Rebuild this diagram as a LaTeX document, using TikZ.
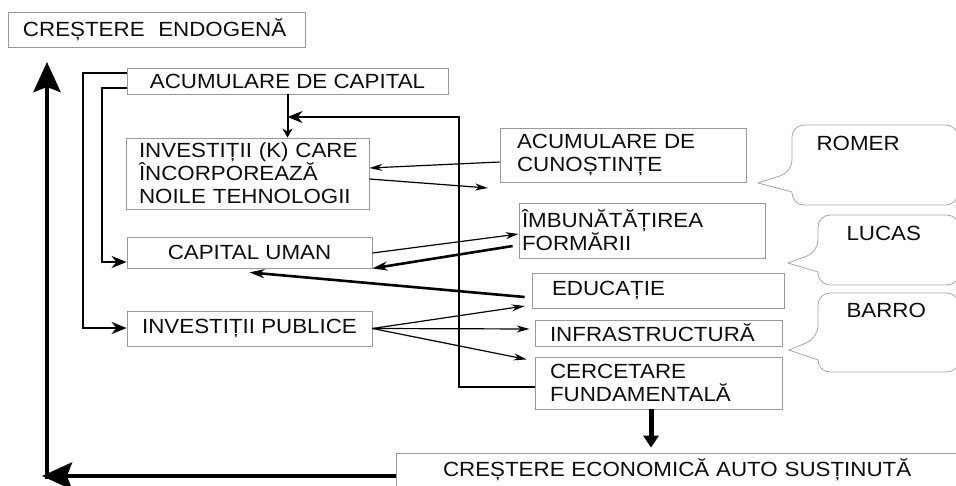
\documentclass[tikz,border=0pt]{standalone}
\usepackage{fontspec}
\setmainfont{Liberation Sans}[FakeStretch=1.09]
\usetikzlibrary{arrows.meta,calc,positioning}

\begin{document}
\begin{tikzpicture}[
    x=1pt, y=-1pt,
    font=\fontsize{20.5}{23}\selectfont,
    text=black!95,
    box/.style={draw=black!40, line width=0.8pt, inner ysep=0pt},
    lbox/.style={box, align=left},
    bubble/.style={draw=black!35, line width=0.8pt},
    thin/.style={line width=1.2pt, -{Stealth[length=13pt,width=7pt]}},
    thk/.style={line width=2.6pt, -{Stealth[length=15pt,width=9pt]}},
    lnk/.style={line width=2.2pt, -{Stealth[length=15pt,width=12pt]}},
    big/.style={line width=4.5pt, -{Stealth[length=30pt,width=27pt,inset=5pt]}},
    ]
    \useasboundingbox (0,0) rectangle (956,485);
    \clip (0,0) rectangle (956,485);

    % boxes
    \node[lbox, minimum width=297pt, minimum height=35pt, text width=267pt,
        inner xsep=15pt] (endo) at (156.5,29.5) {CREȘTERE~~ENDOGENĂ};
    \node[box, minimum width=321pt, minimum height=26pt] (acap) at (287.5,81)
        {ACUMULARE~DE~CAPITAL};
    \node[lbox, minimum width=243pt, minimum height=71pt, text width=217pt,
        inner xsep=13pt] (ktech) at (247.5,173.5)
        {INVESTIȚII~(K)~CARE\\ÎNCORPOREAZĂ\\NOILE~TEHNOLOGII};
    \node[lbox, minimum width=246pt, minimum height=54pt, text width=212pt,
        inner xsep=17pt] (cuma) at (623,155) {ACUMULARE~DE\\CUNOȘTINȚE};
    \node[lbox, minimum width=246pt, minimum height=55pt, text width=240pt,
        inner xsep=3pt] (imbun) at (642,230.5) {ÎMBUNĂTĂȚIREA\\FORMĂRII};
    \node[box, minimum width=245pt, minimum height=31pt] (cuman) at (249.5,252.5)
        {CAPITAL~UMAN};
    \node[lbox, minimum width=252pt, minimum height=35pt, text width=212pt,
        inner xsep=20pt] (educ) at (658,290.5) {EDUCAȚIE};
    \node[box, minimum width=245pt, minimum height=35pt] (ipub) at (249.5,328.5)
        {INVESTIȚII~PUBLICE};
    \node[lbox, minimum width=247pt, minimum height=26pt, text width=217pt,
        inner xsep=15pt] (infra) at (658.5,333) {INFRASTRUCTURĂ};
    \node[lbox, minimum width=247pt, minimum height=52pt, text width=217pt,
        inner xsep=15pt] (cerc) at (658.5,383) {CERCETARE\\FUNDAMENTALĂ};
    \node[lbox, minimum width=604pt, minimum height=33pt, text width=510pt,
        inner xsep=47pt] (ecaut) at (698,469.5)
        {CREȘTERE~ECONOMICĂ~AUTO~SUSȚINUTĂ};

    % callouts
    \draw[bubble] (958,180) [rounded corners=12pt] -- (958,125) -- (792,125)
        -- (792,172) [sharp corners] -- (758,183) -- (792,192)
        [rounded corners=12pt] -- (792,205) -- (958,205) -- (958,180);
    \draw[bubble] (959,250) [rounded corners=12pt] -- (959,215) -- (818,215)
        -- (818,252) [sharp corners] -- (788,263) -- (818,272)
        [rounded corners=12pt] -- (818,285) -- (959,285) -- (959,250);
    \draw[bubble] (959,330) [rounded corners=12pt] -- (959,293) -- (818,293)
        -- (818,338) [sharp corners] -- (789,350) -- (818,360)
        [rounded corners=12pt] -- (818,372) -- (959,372) -- (959,330);
    \node[anchor=base west] (romer) at (813,150) {ROMER};
    \node[anchor=base west] (lucas) at (843,240) {LUCAS};
    \node[anchor=base west] (barro) at (843,317) {BARRO};

    % connectors
    \draw[line width=2pt, -{Stealth[length=9pt,width=10pt]}]
        (acap.south) -- (ktech.north -| acap.south);
    \draw[lnk] (cerc.west |- 0,387) -| (459,117) -- (acap.south |- 0,117);
    \draw[lnk] (acap.west |- 0,73) -| (83,328) -- (ipub.west |- 0,328);
    \draw[lnk] (acap.west |- 0,88) -| (102,262) -- (cuman.west |- 0,262);

    \coordinate (kend) at (488,188);
    \draw[thin] (cuma.west |- 0,162) -- (ktech.east |- 0,168);
    \draw[thin] (ktech.east |- 0,179) -- (kend);
    \draw[thin] (cuman.east |- 0,253) -- (imbun.west |- 0,234);
    \draw[thk] ([xshift=-6pt]imbun.west |- 0,246) -- (cuman.south east);
    \draw[thk] ([xshift=-7pt]educ.west |- 0,297) -- ($(cuman.south)+(0,4)$);

    \draw[thin, shorten >=7pt] (ipub.east) -- (educ.west |- 0,305);
    \draw[thin, shorten >=5pt] (ipub.east) -- (infra.west |- 0,329);
    \draw[thin, shorten >=8pt] (ipub.east) -- (cerc.west |- 0,361);

    \draw[line width=5pt, -{Triangle[length=12pt,width=15pt]}, shorten >=5pt]
        (cerc.south -| 651,0) -- (ecaut.north -| 651,0);

    \coordinate (lefttip) at (42,476);
    \coordinate (corner) at (47,479);
    \coordinate (top) at (47,62);
    \draw[big] (ecaut.west |- lefttip) -- (lefttip);
    \draw[big] (corner) -- (top);
\end{tikzpicture}
\end{document}
